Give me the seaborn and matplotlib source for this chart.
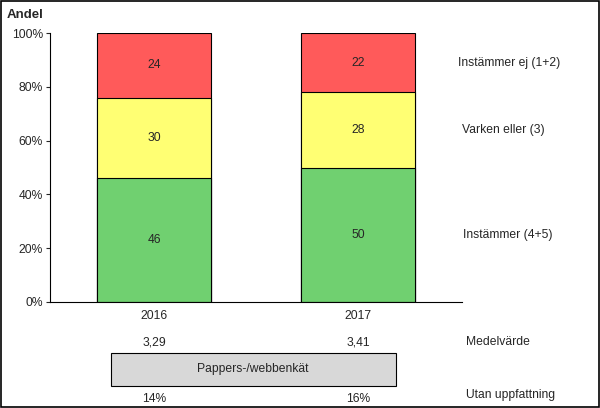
import numpy as np
import pandas as pd
import matplotlib.pyplot as plt
import seaborn as sns
from matplotlib.patches import Rectangle

years = ['2016', '2017']
instammer = [46, 50]
varken = [30, 28]
ej = [24, 22]
medel = ['3,29', '3,41']
utan = ['14%', '16%']
segment_labels = ['Instämmer (4+5)', 'Varken eller (3)', 'Instämmer ej (1+2)']
colors = ['#70D070', '#FFFF73', '#FF5A5A']

sns.set_style('white')
plt.rcParams['font.family'] = ['Liberation Sans', 'DejaVu Sans']
fs = 8.7

df = pd.DataFrame({'year': years, 'green': instammer, 'yellow': varken, 'red': ej})
df['cum_green'] = df['green']
df['cum_yellow'] = df['green'] + df['yellow']
df['cum_red'] = df['cum_yellow'] + df['red']

fig = plt.figure(figsize=(6, 4.08), dpi=100)
ax = fig.add_axes([50 / 600, 1 - 302 / 408, 412 / 600, 269 / 408])

# stacked bars: draw the cumulative totals from the top down
for col, c in zip(['cum_red', 'cum_yellow', 'cum_green'], colors[::-1]):
    sns.barplot(data=df, x='year', y=col, color=c, width=0.555,
                edgecolor='black', linewidth=0.8, ax=ax, saturation=1)

# segment values
for i, row in df.iterrows():
    bottoms = [0, row['cum_green'], row['cum_yellow']]
    vals = [row['green'], row['yellow'], row['red']]
    for b, v in zip(bottoms, vals):
        ax.text(i, b + v / 2, str(v), ha='center', va='center', fontsize=fs)

ax.set_xlim(-0.51, 1.51)
ax.set_ylim(0, 100)
ax.set_yticks(range(0, 101, 20))
ax.set_yticklabels([f'{t}%' for t in range(0, 101, 20)], fontsize=fs)
ax.tick_params(axis='y', length=3, width=0.8, direction='out', left=True, pad=2)
ax.tick_params(axis='x', length=0, labelsize=fs, pad=6)
ax.set_xlabel('')
ax.set_ylabel('')
for s in ['top', 'right']:
    ax.spines[s].set_visible(False)
for s in ['left', 'bottom']:
    ax.spines[s].set_color('black')
    ax.spines[s].set_linewidth(0.8)

# segment names at right, level with the 2017 bar segments
mids_2017 = [df['green'][1] / 2, df['cum_green'][1] + df['yellow'][1] / 2,
             df['cum_yellow'][1] + df['red'][1] / 2]
for lab, m, dx in zip(segment_labels, mids_2017, [1.515, 1.51, 1.49]):
    ax.text(dx, m, lab, ha='left', va='center', fontsize=fs, clip_on=False)

# table rows below the chart
for i in range(len(years)):
    ax.text(i, -15, medel[i], ha='center', va='center', fontsize=fs, clip_on=False)
    ax.text(i, -36, utan[i], ha='center', va='center', fontsize=fs, clip_on=False)
ax.text(1.53, -15, 'Medelvärde', ha='left', va='center', fontsize=fs, clip_on=False)
ax.text(1.53, -34.5, 'Utan uppfattning', ha='left', va='center', fontsize=fs, clip_on=False)

box = Rectangle((111 / 600, 1 - 386 / 408), 285 / 600, 33 / 408,
                transform=fig.transFigure, facecolor='#D8D8D8', edgecolor='black',
                linewidth=0.8, clip_on=False)
fig.patches.append(box)
fig.text(253 / 600, 1 - 369 / 408, 'Pappers-/webbenkät', ha='center', va='center', fontsize=fs)

fig.text(7 / 600, 1 - 15 / 408, 'Andel', ha='left', va='center', fontsize=9.5, fontweight='bold')

# border round the whole picture
fig.patches.append(Rectangle((0.001, 0.002), 0.997, 0.996, transform=fig.transFigure,
                             fill=False, edgecolor='black', linewidth=1.2))

fig.savefig('out.png', dpi=100)
